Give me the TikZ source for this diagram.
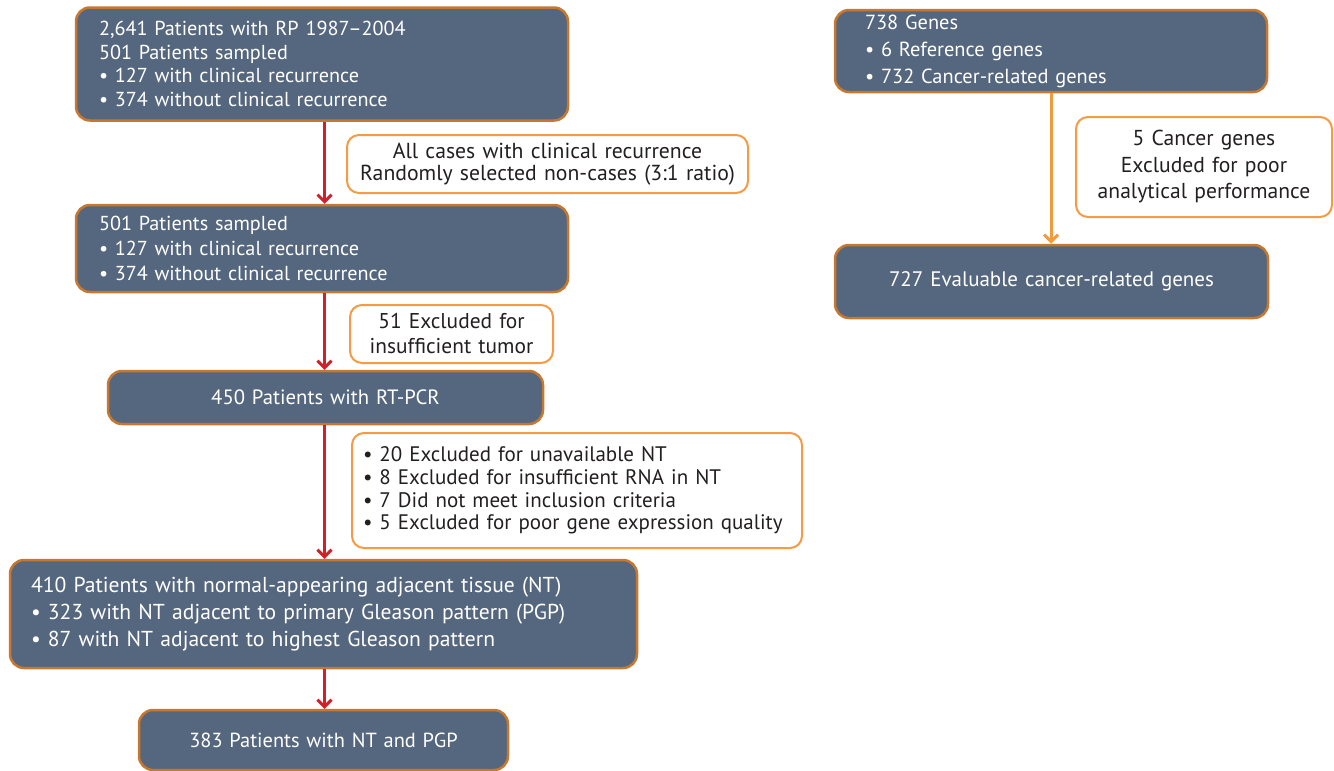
\documentclass[tikz,border=0pt]{standalone}
\usepackage{fontspec}
\setmainfont{PT Sans}
\usetikzlibrary{arrows.meta}
\definecolor{boxfill}{HTML}{55677E}
\definecolor{boxedge}{HTML}{C8782E}
\definecolor{noteedge}{HTML}{F59A45}
\definecolor{redarrow}{HTML}{D0202A}
\definecolor{orarrow}{HTML}{F39A3C}
\definecolor{notetext}{HTML}{231F20}
\newcommand{\fsz}[2]{\fontsize{#1pt}{#2pt}\selectfont}
\tikzset{
  dbox/.style={draw=boxedge, fill=boxfill, line width=2.5pt, rounded corners=14pt,
    text=white, inner ysep=0pt},
  nbox/.style={draw=noteedge, fill=white, line width=2pt, rounded corners=12pt,
    text=notetext, inner ysep=0pt},
  rarrow/.style={draw=redarrow, line width=3pt, -{Straight Barb[length=7pt,width=14pt,line width=3pt]}},
  oarrow/.style={draw=orarrow, line width=3pt, -{Straight Barb[length=7pt,width=14pt,line width=3pt]}}
}
\begin{document}
\begin{tikzpicture}[x=1pt,y=-1pt]
\useasboundingbox (0,0) rectangle (1334,771);
% left column
\node[dbox, minimum width=492pt, minimum height=113pt, inner xsep=23pt, text width=446pt, align=left, font=\fsz{20.2}{23.7}] (b1) at (322,64)
 {2,641 Patients with RP 1987–2004\\501 Patients sampled\\• 127 with clinical recurrence\\• 374 without clinical recurrence};
\node[dbox, minimum width=492pt, minimum height=87pt, inner xsep=23pt, text width=446pt, align=left, font=\fsz{20.2}{25}] (b2) at (322,248.5)
 {501 Patients sampled\\• 127 with clinical recurrence\\• 374 without clinical recurrence};
\node[dbox, minimum width=435pt, minimum height=53pt, inner xsep=10pt, text width=415pt, align=center, font=\fsz{20.7}{24}] (b3) at (325.5,397.5)
 {450 Patients with RT-PCR};
\node[dbox, minimum width=627pt, minimum height=108pt, inner xsep=21pt, text width=585pt, align=left, font=\fsz{21.6}{27}] (b4) at (323.5,614)
 {410 Patients with normal-appearing adjacent tissue (NT)\\• 323 with NT adjacent to primary Gleason pattern (PGP)\\• 87 with NT adjacent to highest Gleason pattern};
\node[dbox, minimum width=369pt, minimum height=60pt, inner xsep=10pt, text width=349pt, align=center, font=\fsz{20.4}{24}] (b5) at (323.5,740)
 {383 Patients with NT and PGP};
% notes
\node[nbox, minimum width=401pt, minimum height=58pt, inner xsep=8pt, text width=385pt, align=center, font=\fsz{21.7}{21.5}] (n1) at (547.5,164)
 {All cases with clinical recurrence\\Randomly selected non-cases (3:1 ratio)};
\node[nbox, minimum width=203pt, minimum height=58pt, inner xsep=6pt, text width=191pt, align=center, font=\fsz{21.4}{25}] (n2) at (451.5,334)
 {51 Excluded for\\insufficient tumor};
\node[nbox, minimum width=450pt, minimum height=115pt, inner xsep=11pt, text width=428pt, align=left, font=\fsz{21}{22.7}] (n3) at (577,490.5)
 {• 20 Excluded for unavailable NT\\• 8 Excluded for insufficient RNA in NT\\• 7 Did not meet inclusion criteria\\• 5 Excluded for poor gene expression quality};
% right column
\node[dbox, minimum width=432pt, minimum height=82pt, inner xsep=30pt, text width=372pt, align=left, font=\fsz{20.4}{27}] (b6) at (1051,51)
 {738 Genes\\• 6 Reference genes\\• 732 Cancer-related genes};
\node[dbox, minimum width=433pt, minimum height=73pt, inner xsep=10pt, text width=413pt, align=center, font=\fsz{21}{24}] (b7) at (1051.5,281.5)
 {727 Evaluable cancer-related genes};
\node[nbox, minimum width=256pt, minimum height=100pt, inner xsep=6pt, text width=244pt, align=center, font=\fsz{21.6}{26.5}] (n4) at (1204,167)
 {5 Cancer genes\\Excluded for poor\\analytical performance};
% connectors
\coordinate (c1) at (324.5,0);
\draw[rarrow] (b1.south -| c1) -- (b2.north -| c1);
\draw[rarrow] (b2.south -| c1) -- (b3.north -| c1);
\draw[rarrow] (b3.south -| c1) -- (b4.north -| c1);
\draw[rarrow] (b4.south -| c1) -- (b5.north -| c1);
\draw[oarrow] (b6.south) -- (b6.south |- b7.north);
\end{tikzpicture}
\end{document}
